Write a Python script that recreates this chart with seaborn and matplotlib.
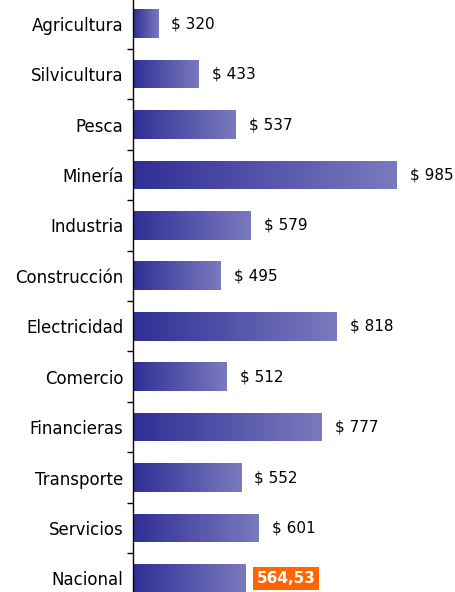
import numpy as np
import pandas as pd
import matplotlib
matplotlib.use('Agg')
import matplotlib.pyplot as plt
from matplotlib.colors import LinearSegmentedColormap
import seaborn as sns

sns.set_style('white')
plt.rcParams['font.family'] = ['DejaVu Sans']

sectores = ['Agricultura', 'Silvicultura', 'Pesca', 'Minería', 'Industria',
            'Construcción', 'Electricidad', 'Comercio', 'Financieras',
            'Transporte', 'Servicios', 'Nacional']
valores = [320, 433, 537, 985, 579, 495, 818, 512, 777, 552, 601, 564.53]
etiquetas = ['$ 320', '$ 433', '$ 537', '$ 985', '$ 579', '$ 495', '$ 818',
             '$ 512', '$ 777', '$ 552', '$ 601', '564,53']

df = pd.DataFrame({'sector': sectores, 'valor': valores})

fig = plt.figure(figsize=(4.55, 5.92), dpi=100)
ax = fig.add_axes([133 / 455, 0, 1 - 133 / 455, 1])

sns.barplot(data=df, y='sector', x='valor', orient='h', width=0.57,
            color='#3a3a9c', ax=ax)

# gradient fill, dark blue -> lavender, per bar
cmap = LinearSegmentedColormap.from_list('grad', ['#2f2f96', '#7a7abe'])
grad = np.linspace(0, 1, 256).reshape(1, -1)
x0_lim = 250
for p in ax.patches:
    x, y = p.get_x(), p.get_y()
    w, h = p.get_width(), p.get_height()
    left = max(x, x0_lim)
    im = ax.imshow(grad, extent=[left, x + w, y + h, y], cmap=cmap,
                   aspect='auto', zorder=2, interpolation='bicubic')
    im.set_clip_path(p)
    p.set_facecolor('none')
    p.set_edgecolor('none')

ax.set_xlim(x0_lim, 1148)
ax.set_ylim(11.27, -0.47)

# value labels
for i, (v, t) in enumerate(zip(valores, etiquetas)):
    if sectores[i] == 'Nacional':
        ax.annotate(t, (v, i), xytext=(11, 0), textcoords='offset pixels',
                    va='center', ha='left', fontsize=11, color='white',
                    fontweight='bold',
                    bbox=dict(boxstyle='square,pad=0.25', fc='#ff6600', ec='none'))
    else:
        ax.annotate(t, (v, i), xytext=(13, 0), textcoords='offset pixels',
                    va='center', ha='left', fontsize=11, color='black')

ax.set_xlabel('')
ax.set_ylabel('')
ax.set_xticks([])
ax.set_yticks(range(len(sectores)))
ax.set_yticklabels(sectores, fontsize=12, color='black')
ax.set_yticks(np.arange(0.5, len(sectores) - 0.5, 1), minor=True)
ax.tick_params(axis='y', which='major', length=0, pad=7)
ax.tick_params(axis='y', which='minor', length=4, width=1, color='black', left=True)
for s in ['top', 'right', 'bottom']:
    ax.spines[s].set_visible(False)
ax.spines['left'].set_color('black')
ax.spines['left'].set_linewidth(1)

fig.savefig('out.png', dpi=100)
